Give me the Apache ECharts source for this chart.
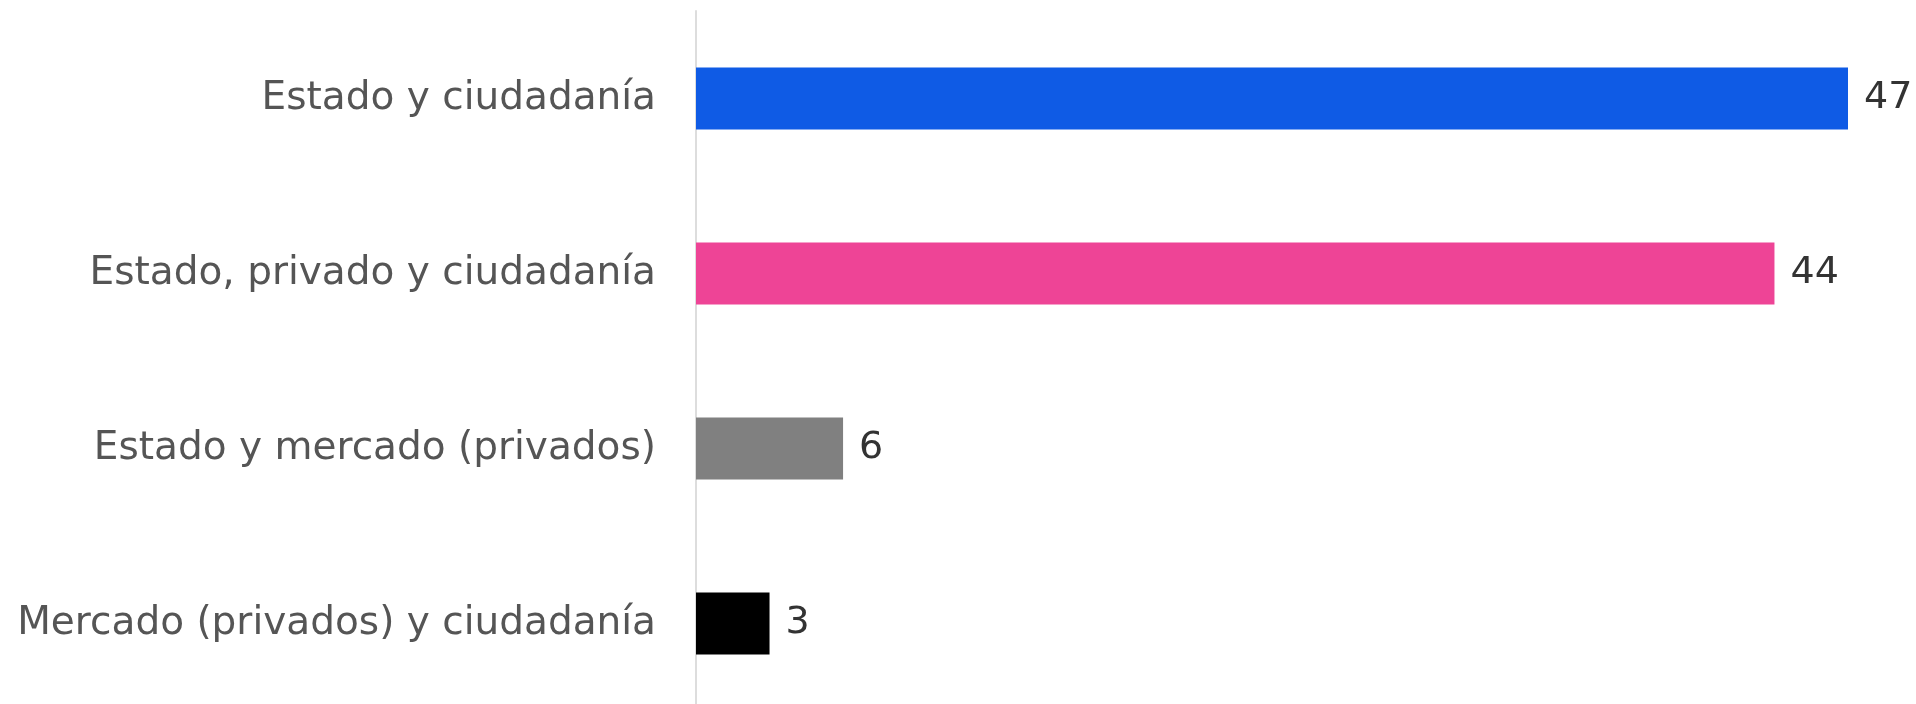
<!DOCTYPE html>
<html>
<head>
<meta charset="utf-8">
<script src="https://cdn.jsdelivr.net/npm/echarts@6/dist/echarts.min.js"></script>
<style>
  html, body { margin: 0; padding: 0; background: #ffffff; }
  #chart { width: 1916px; height: 704px; }
</style>
</head>
<body>
<div id="chart"></div>
<script>
// Categories, top to bottom
const categories = [
  'Estado y ciudadanía',
  'Estado, privado y ciudadanía',
  'Estado y mercado (privados)',
  'Mercado (privados) y ciudadanía'
];
// Values per category
const values = [47, 44, 6, 3];
// Bar colours per category
const barColors = ['#0f5be5', '#ee4496', '#808080', '#000000'];

const chart = echarts.init(document.getElementById('chart'), null, { renderer: 'canvas' });

chart.setOption({
  animation: false,
  backgroundColor: '#ffffff',
  grid: { left: 696, right: 68, top: 11, height: 700, outerBoundsMode: 'none', containLabel: false },
  xAxis: {
    type: 'value',
    min: 0,
    max: 47,
    show: false
  },
  yAxis: {
    type: 'category',
    inverse: true,
    data: categories,
    axisLine: { show: true, lineStyle: { color: '#dddddd', width: 2 } },
    axisTick: { show: false },
    axisLabel: {
      margin: 40,
      color: '#555555',
      fontFamily: 'DejaVu Sans',
      fontSize: 39
    }
  },
  series: [{
    type: 'bar',
    barWidth: 62,
    data: values.map((v, i) => ({ value: v, itemStyle: { color: barColors[i] } })),
    label: {
      show: true,
      position: 'right',
      distance: 16,
      color: '#333333',
      fontFamily: 'DejaVu Sans',
      fontSize: 38
    }
  }]
});
</script>
</body>
</html>
